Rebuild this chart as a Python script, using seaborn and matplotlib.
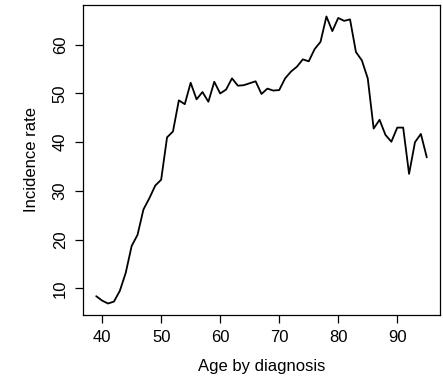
import matplotlib
matplotlib.use("Agg")
import matplotlib.pyplot as plt
import seaborn as sns
import pandas as pd

ages = list(range(39, 96))
incidence = [8.4, 7.5, 6.9, 7.3, 9.5, 13.2, 18.7, 21.0, 26.2, 28.5,
             31.1, 32.3, 41.0, 42.2, 48.6, 47.8, 52.2, 48.8, 50.3, 48.3,
             52.4, 50.0, 50.8, 53.1, 51.6, 51.7, 52.1, 52.5, 49.9, 51.0,
             50.6, 50.7, 53.1, 54.5, 55.5, 57.0, 56.6, 59.1, 60.6, 65.8,
             62.8, 65.5, 64.9, 65.2, 58.5, 56.8, 53.1, 42.8, 44.6, 41.5,
             40.1, 43.0, 43.0, 33.5, 40.0, 41.7, 36.9]
x_ticks = [40, 50, 60, 70, 80, 90]
y_ticks = [10, 20, 30, 40, 50, 60]

sns.set_theme(style="ticks")
plt.rcParams['font.family'] = ['Liberation Sans', 'DejaVu Sans']
plt.rcParams['text.color'] = 'black'
plt.rcParams['axes.labelcolor'] = 'black'
plt.rcParams['xtick.color'] = 'black'
plt.rcParams['ytick.color'] = 'black'
plt.rcParams['xtick.labelcolor'] = 'black'
plt.rcParams['ytick.labelcolor'] = 'black'

df = pd.DataFrame({"age": ages, "rate": incidence})

fig = plt.figure(figsize=(4.43, 3.79), dpi=100)
ax = fig.add_axes([83/443, 64/379, (440-83)/443, (315-5)/379])
sns.lineplot(data=df, x="age", y="rate", ax=ax, color="black", linewidth=1.3)

xr = max(ages) - min(ages)
ax.set_xlim(min(ages) - 0.04*xr, max(ages) + 0.04*xr)
yr = max(incidence) - min(incidence)
ax.set_ylim(min(incidence) - 0.04*yr, max(incidence) + 0.04*yr)

ax.set_xticks(x_ticks)
ax.set_yticks(y_ticks)
ax.tick_params(axis='both', labelsize=12, length=6, width=0.9, color='black',
               labelcolor='black', pad=5)
for lab in ax.get_yticklabels():
    lab.set_rotation(90)
    lab.set_va('center')
for s in ax.spines.values():
    s.set_visible(True)
    s.set_color('black')
    s.set_linewidth(0.9)

ax.set_xlabel("Age by diagnosis", fontsize=12, labelpad=10, color='black')
ax.set_ylabel("Incidence rate", fontsize=12, labelpad=10, color='black')

fig.savefig("out.png", dpi=100)
